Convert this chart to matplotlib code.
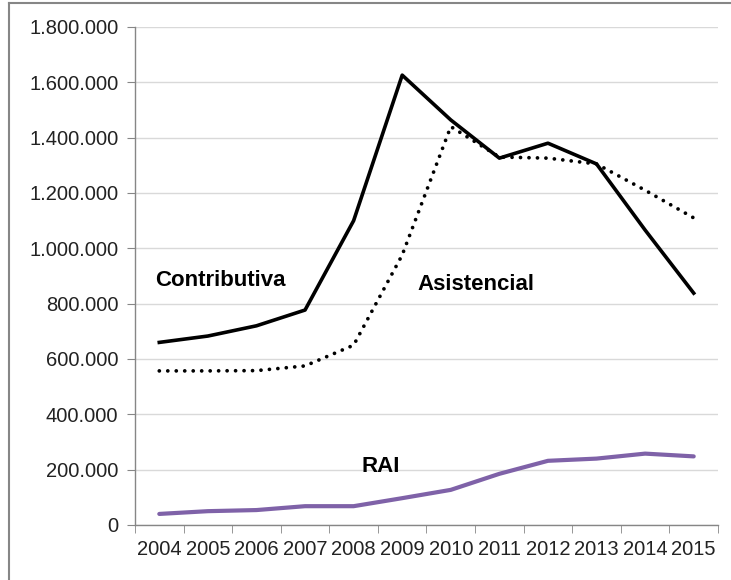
import matplotlib
matplotlib.use("Agg")
import matplotlib.pyplot as plt
from matplotlib.lines import Line2D
from matplotlib.ticker import FuncFormatter

years = ["2004", "2005", "2006", "2007", "2008", "2009",
         "2010", "2011", "2012", "2013", "2014", "2015"]
contributiva = [660000, 683000, 720000, 777000, 1100000, 1626000,
                1464000, 1326000, 1380000, 1305000, 1066000, 838000]
asistencial = [557000, 557000, 558000, 575000, 650000, 976000,
               1440000, 1330000, 1326000, 1305000, 1210000, 1110000]
rai = [40000, 50000, 54000, 68000, 68000, 97000,
       127000, 185000, 232000, 240000, 258000, 248000]

plt.rcParams["font.family"] = ["Liberation Sans", "DejaVu Sans"]

fig = plt.figure(figsize=(7.31, 5.80), dpi=100)
ax = fig.add_axes([135 / 731, 1 - 525 / 580, (718 - 135) / 731, (525 - 27) / 580])

x = list(range(len(years)))
ax.plot(x, contributiva, color="black", lw=2.6)
ax.plot(x, asistencial, color="black", lw=2.7, linestyle=(0, (0.01, 2.25)),
        dash_capstyle="round")
ax.plot(x, rai, color="#7F62A8", lw=3.0, solid_capstyle="round")

ax.set_xlim(-0.5, len(years) - 0.5)
ax.set_ylim(0, 1800000)
ax.set_yticks(range(0, 1800001, 200000))
ax.yaxis.set_major_formatter(FuncFormatter(lambda v, p: f"{int(v):,}".replace(",", ".")))
ax.set_xticks(x)
ax.set_xticklabels(years)
ax.set_xticks([i - 0.5 for i in range(len(years) + 1)], minor=True)

ax.grid(axis="y", color="#D9D9D9", lw=1.0)
ax.set_axisbelow(True)
for s in ["top", "right"]:
    ax.spines[s].set_visible(False)
for s in ["left", "bottom"]:
    ax.spines[s].set_color("#868686")
    ax.spines[s].set_linewidth(1.0)

ax.tick_params(axis="y", length=6, color="#868686", labelsize=14.5, pad=6, labelcolor="#222222")
ax.tick_params(axis="x", which="major", length=0, labelsize=14.5, pad=11, labelcolor="#222222")
ax.tick_params(axis="x", which="minor", length=6, color="#868686")

ax.text(-0.09, 885000, "Contributiva", fontsize=16, fontweight="bold", va="center", ha="left")
ax.text(5.32, 871000, "Asistencial", fontsize=16, fontweight="bold", va="center", ha="left")
ax.text(4.17, 210000, "RAI", fontsize=16, fontweight="bold", va="center", ha="left")

# chart border (only top/left visible in the original crop)
fig.add_artist(Line2D([9 / 731, 9 / 731], [0, 1 - 3 / 580], color="#868686", lw=1.5,
                      transform=fig.transFigure))
fig.add_artist(Line2D([9 / 731, 1], [1 - 3 / 580, 1 - 3 / 580], color="#868686", lw=1.5,
                      transform=fig.transFigure))

fig.savefig("out.png", dpi=100)
